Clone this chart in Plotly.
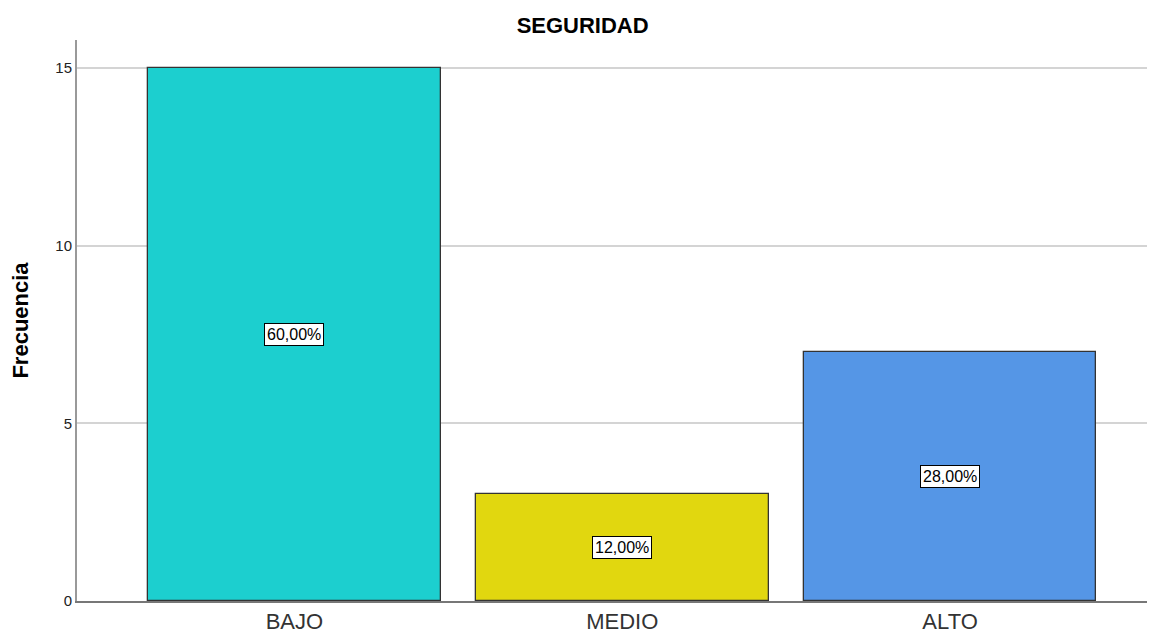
import plotly.graph_objects as go

categories = ["BAJO", "MEDIO", "ALTO"]
frecuencia = [15, 3, 7]
porcentajes = ["60,00%", "12,00%", "28,00%"]
colors = ["#1ccfcf", "#e1d70f", "#5596e6"]

fig = go.Figure()
fig.add_trace(go.Bar(
    x=categories, y=frecuencia, width=0.893,
    marker=dict(color=colors, line=dict(color="#333333", width=1.3)),
    hoverinfo="skip",
))
for c, v, p in zip(categories, frecuencia, porcentajes):
    fig.add_annotation(
        x=c, y=v / 2, text=p, showarrow=False,
        font=dict(family="Liberation Sans, Arial", size=16, color="black"),
        bgcolor="white", bordercolor="black", borderwidth=1, borderpad=2,
    )

# page body has an 8px margin; compensate so the plot lands where the reference has it
fig.update_layout(
    width=1147, height=627,
    margin=dict(l=69, r=0, t=32, b=34),
    paper_bgcolor="white", plot_bgcolor="white",
    font=dict(family="Liberation Sans, Arial", color="#222222"),
    title=dict(text="<b>SEGURIDAD</b>", x=0.501, xanchor="center", y=0.973, yanchor="middle",
               font=dict(size=22, color="black")),
    showlegend=False,
    bargap=0,
)
fig.update_xaxes(
    type="category", range=[-0.663, 2.625],
    showline=True, linecolor="#777777", linewidth=1.5,
    showgrid=False, ticks="", tickfont=dict(size=22, color="#333333"),
)
fig.update_yaxes(
    range=[0, 15.79], tickvals=[0, 5, 10, 15],
    showline=True, linecolor="#999999", linewidth=2,
    showgrid=True, gridcolor="#d4d4d4", gridwidth=1.5,
    zeroline=False, ticks="", tickfont=dict(size=15, color="#222222"),
    title=dict(text="<b>Frecuencia</b>", font=dict(size=22, color="black"), standoff=22),
)

fig.write_html("out.html")
